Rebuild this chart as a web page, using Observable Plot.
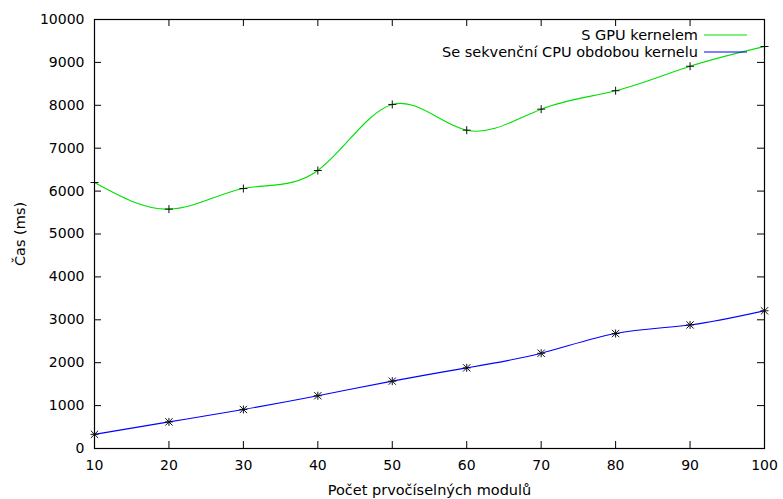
<!DOCTYPE html>
<html>
<head>
<meta charset="utf-8">
<script src="https://cdn.jsdelivr.net/npm/d3@7"></script>
<script src="https://cdn.jsdelivr.net/npm/@observablehq/plot@0.6"></script>
<style>
  html, body { margin: 0; padding: 0; background: #fff; }
  #chart svg { display: block; }
</style>
</head>
<body>
<div id="chart"></div>
<script>
// ---- data ----
const moduleCounts = [10, 20, 30, 40, 50, 60, 70, 80, 90, 100];
const gpuTimes = [6200, 5580, 6060, 6480, 8020, 7420, 7910, 8340, 8910, 9370];
const cpuTimes = [330, 620, 910, 1230, 1570, 1880, 2220, 2680, 2880, 3210];
const xTickValues = [10, 20, 30, 40, 50, 60, 70, 80, 90, 100];
const yTickValues = [0, 1000, 2000, 3000, 4000, 5000, 6000, 7000, 8000, 9000, 10000];
const seriesNames = ["S GPU kernelem", "Se sekvenční CPU obdobou kernelu"];
const xLabel = "Počet prvočíselných modulů";
const yLabel = "Čas (ms)";

const gpuData = moduleCounts.map((x, i) => ({x, y: gpuTimes[i]}));
const cpuData = moduleCounts.map((x, i) => ({x, y: cpuTimes[i]}));

// ---- layout ----
const W = 783, H = 499;
const mL = 94, mR = 19, mT = 19, mB = 51;
const pw = W - mL - mR, ph = H - mT - mB;
const tickLen = 7;
const font = "DejaVu Sans, sans-serif";
const fsTick = 14;
const fs = 14.5;
const green = "#00e000", blue = "#0000ff";

const chart = Plot.plot({
  width: W,
  height: H,
  marginLeft: mL, marginRight: mR, marginTop: mT, marginBottom: mB,
  style: {fontFamily: font, fontSize: fsTick + "px", color: "#000", background: "#fff"},
  x: {domain: [10, 100]},
  y: {domain: [0, 10000]},
  marks: [
    Plot.axisX({ticks: xTickValues, tickSize: 0, tickPadding: 12, tickFormat: d => String(d), label: null, fontSize: fsTick}),
    Plot.axisY({ticks: yTickValues, tickSize: 0, tickPadding: 10, tickFormat: d => String(d), label: null, fontSize: fsTick}),
    // inward ticks on all four sides
    Plot.tickY(yTickValues, {y: d => d, stroke: "#000", insetRight: pw - tickLen}),
    Plot.tickY(yTickValues, {y: d => d, stroke: "#000", insetLeft: pw - tickLen}),
    Plot.tickX(xTickValues, {x: d => d, stroke: "#000", insetTop: ph - tickLen}),
    Plot.tickX(xTickValues, {x: d => d, stroke: "#000", insetBottom: ph - tickLen}),
    Plot.line(gpuData, {x: "x", y: "y", stroke: green, strokeWidth: 1.1, curve: "natural"}),
    Plot.line(cpuData, {x: "x", y: "y", stroke: blue, strokeWidth: 1.1, curve: "natural"}),
    Plot.dot(gpuData, {x: "x", y: "y", symbol: "plus", r: 2.7, stroke: "#111", strokeWidth: 1}),
    Plot.dot(cpuData, {x: "x", y: "y", symbol: "plus", r: 2.7, stroke: "#111", strokeWidth: 1}),
    Plot.dot(cpuData, {x: "x", y: "y", symbol: "times", r: 3.4, stroke: "#111", strokeWidth: 1}),
    Plot.frame({stroke: "#000", strokeWidth: 1.2}),
    Plot.text([xLabel], {text: d => d, frameAnchor: "bottom", dy: 42, lineAnchor: "middle", fontSize: fs, fill: "#000"}),
    Plot.text([yLabel], {text: d => d, frameAnchor: "left", dx: -74, rotate: -90, lineAnchor: "middle", textAnchor: "middle", fontSize: fs, fill: "#000"})
  ]
});

// legend inside the plot, top-right
const svg = d3.select(chart);
const legendColors = [green, blue];
const lx = W - mR - 66, ly0 = mT + 16, lstep = 17;
seriesNames.forEach((name, i) => {
  const g = svg.append("g");
  g.append("text")
    .attr("x", lx).attr("y", ly0 + i * lstep)
    .attr("dy", "0.35em")
    .attr("text-anchor", "end")
    .attr("font-family", font).attr("font-size", fs)
    .attr("fill", "#000")
    .text(name);
  g.append("line")
    .attr("x1", lx + 6).attr("x2", lx + 49)
    .attr("y1", ly0 + i * lstep).attr("y2", ly0 + i * lstep)
    .attr("stroke", legendColors[i]).attr("stroke-width", 1.1);
});

document.getElementById("chart").appendChild(chart);
</script>
</body>
</html>
